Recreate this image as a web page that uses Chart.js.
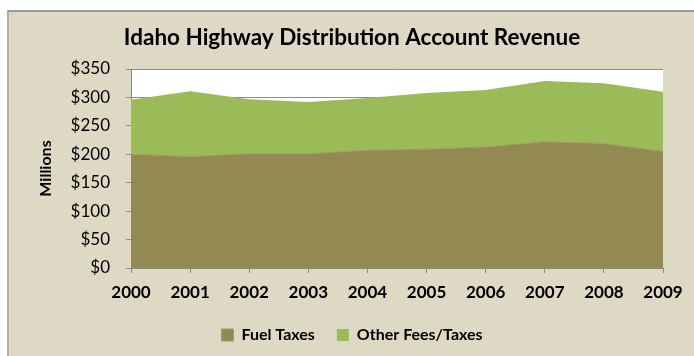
<!DOCTYPE html>
<html>
<head>
<meta charset="utf-8">
<script src="https://cdn.jsdelivr.net/npm/chart.js@4"></script>
<style>
  html, body { margin: 0; padding: 0; background: #fff; }
  #box { position: absolute; left: 7px; top: 10px; width: 687px; height: 346px;
         background: #DDD9C4; border-top: 2px solid #9a9a9a; border-left: 2px solid #b0b0b0; box-sizing: border-box; }
  #wrap { position: absolute; left: 0; top: 0; width: 694px; height: 356px; }
</style>
</head>
<body>
<div id="box"></div>
<div id="wrap"><canvas id="chart" width="694" height="356"></canvas></div>
<script>
var years = ['2000', '2001', '2002', '2003', '2004', '2005', '2006', '2007', '2008', '2009'];
var fuelTaxes = [200, 196, 201, 201, 207, 209, 213, 222, 219, 205];
var otherFees = [96, 115, 96, 91, 92, 99, 100, 107, 106, 105];

var plotBg = {
  id: 'plotBg',
  beforeDraw: function (chart) {
    var a = chart.chartArea, c = chart.ctx;
    c.save();
    c.fillStyle = '#ffffff';
    c.fillRect(a.left, a.top, a.right - a.left, a.bottom - a.top);
    c.restore();
  }
};

var ctx = document.getElementById('chart').getContext('2d');
var myChart = new Chart(ctx, {
  type: 'line',
  data: {
    labels: years,
    datasets: [{
      label: 'Fuel Taxes',
      data: fuelTaxes,
      backgroundColor: '#938953',
      borderColor: '#A39A68',
      borderWidth: 1,
      pointRadius: 0,
      tension: 0,
      fill: 'origin'
    }, {
      label: 'Other Fees/Taxes',
      data: otherFees,
      backgroundColor: '#9BBB59',
      borderColor: '#9BBB59',
      borderWidth: 0,
      pointRadius: 0,
      tension: 0,
      fill: '-1'
    }]
  },
  options: {
    responsive: false,
    animation: false,
    layout: { padding: { left: 10, right: 0, top: 14, bottom: 3 } },
    plugins: {
      title: {
        display: true,
        text: 'Idaho Highway Distribution Account Revenue',
        color: '#000',
        font: { family: 'Lato', size: 22.5, weight: 'bold' },
        padding: { top: 10, bottom: 18 }
      },
      legend: {
        position: 'bottom',
        labels: {
          color: '#000',
          font: { family: 'Lato', size: 16, weight: 'bold' },
          boxWidth: 12,
          boxHeight: 12,
          padding: 22
        }
      },
      tooltip: { enabled: false }
    },
    scales: {
      x: {
        offset: false,
        afterFit: function (s) { s.height = 37; },
        grid: { drawOnChartArea: false, drawTicks: true, tickLength: 5, color: '#888' },
        border: { color: '#888' },
        ticks: { color: '#000', font: { family: 'Lato', size: 17, weight: 'bold' }, padding: 9, maxRotation: 0 }
      },
      y: {
        stacked: true,
        min: 0,
        max: 350,
        afterFit: function (s) { s.width = 121; },
        grid: { color: '#8c8c8c', tickLength: 5 },
        border: { color: '#888' },
        ticks: {
          stepSize: 50,
          color: '#000',
          font: { family: 'Lato', size: 17 },
          padding: 16,
          callback: function (v) { return '$' + v; }
        },
        title: {
          display: true,
          text: 'Millions',
          color: '#000',
          font: { family: 'Lato', size: 16, weight: 'bold' },
          padding: { top: 26, bottom: 0 }
        }
      },
      yRight: {
        position: 'right',
        display: true,
        afterFit: function (s) { s.width = 31; },
        grid: { display: false },
        border: { display: false },
        ticks: { display: false }
      }
    }
  },
  plugins: [plotBg]
});
</script>
</body>
</html>
